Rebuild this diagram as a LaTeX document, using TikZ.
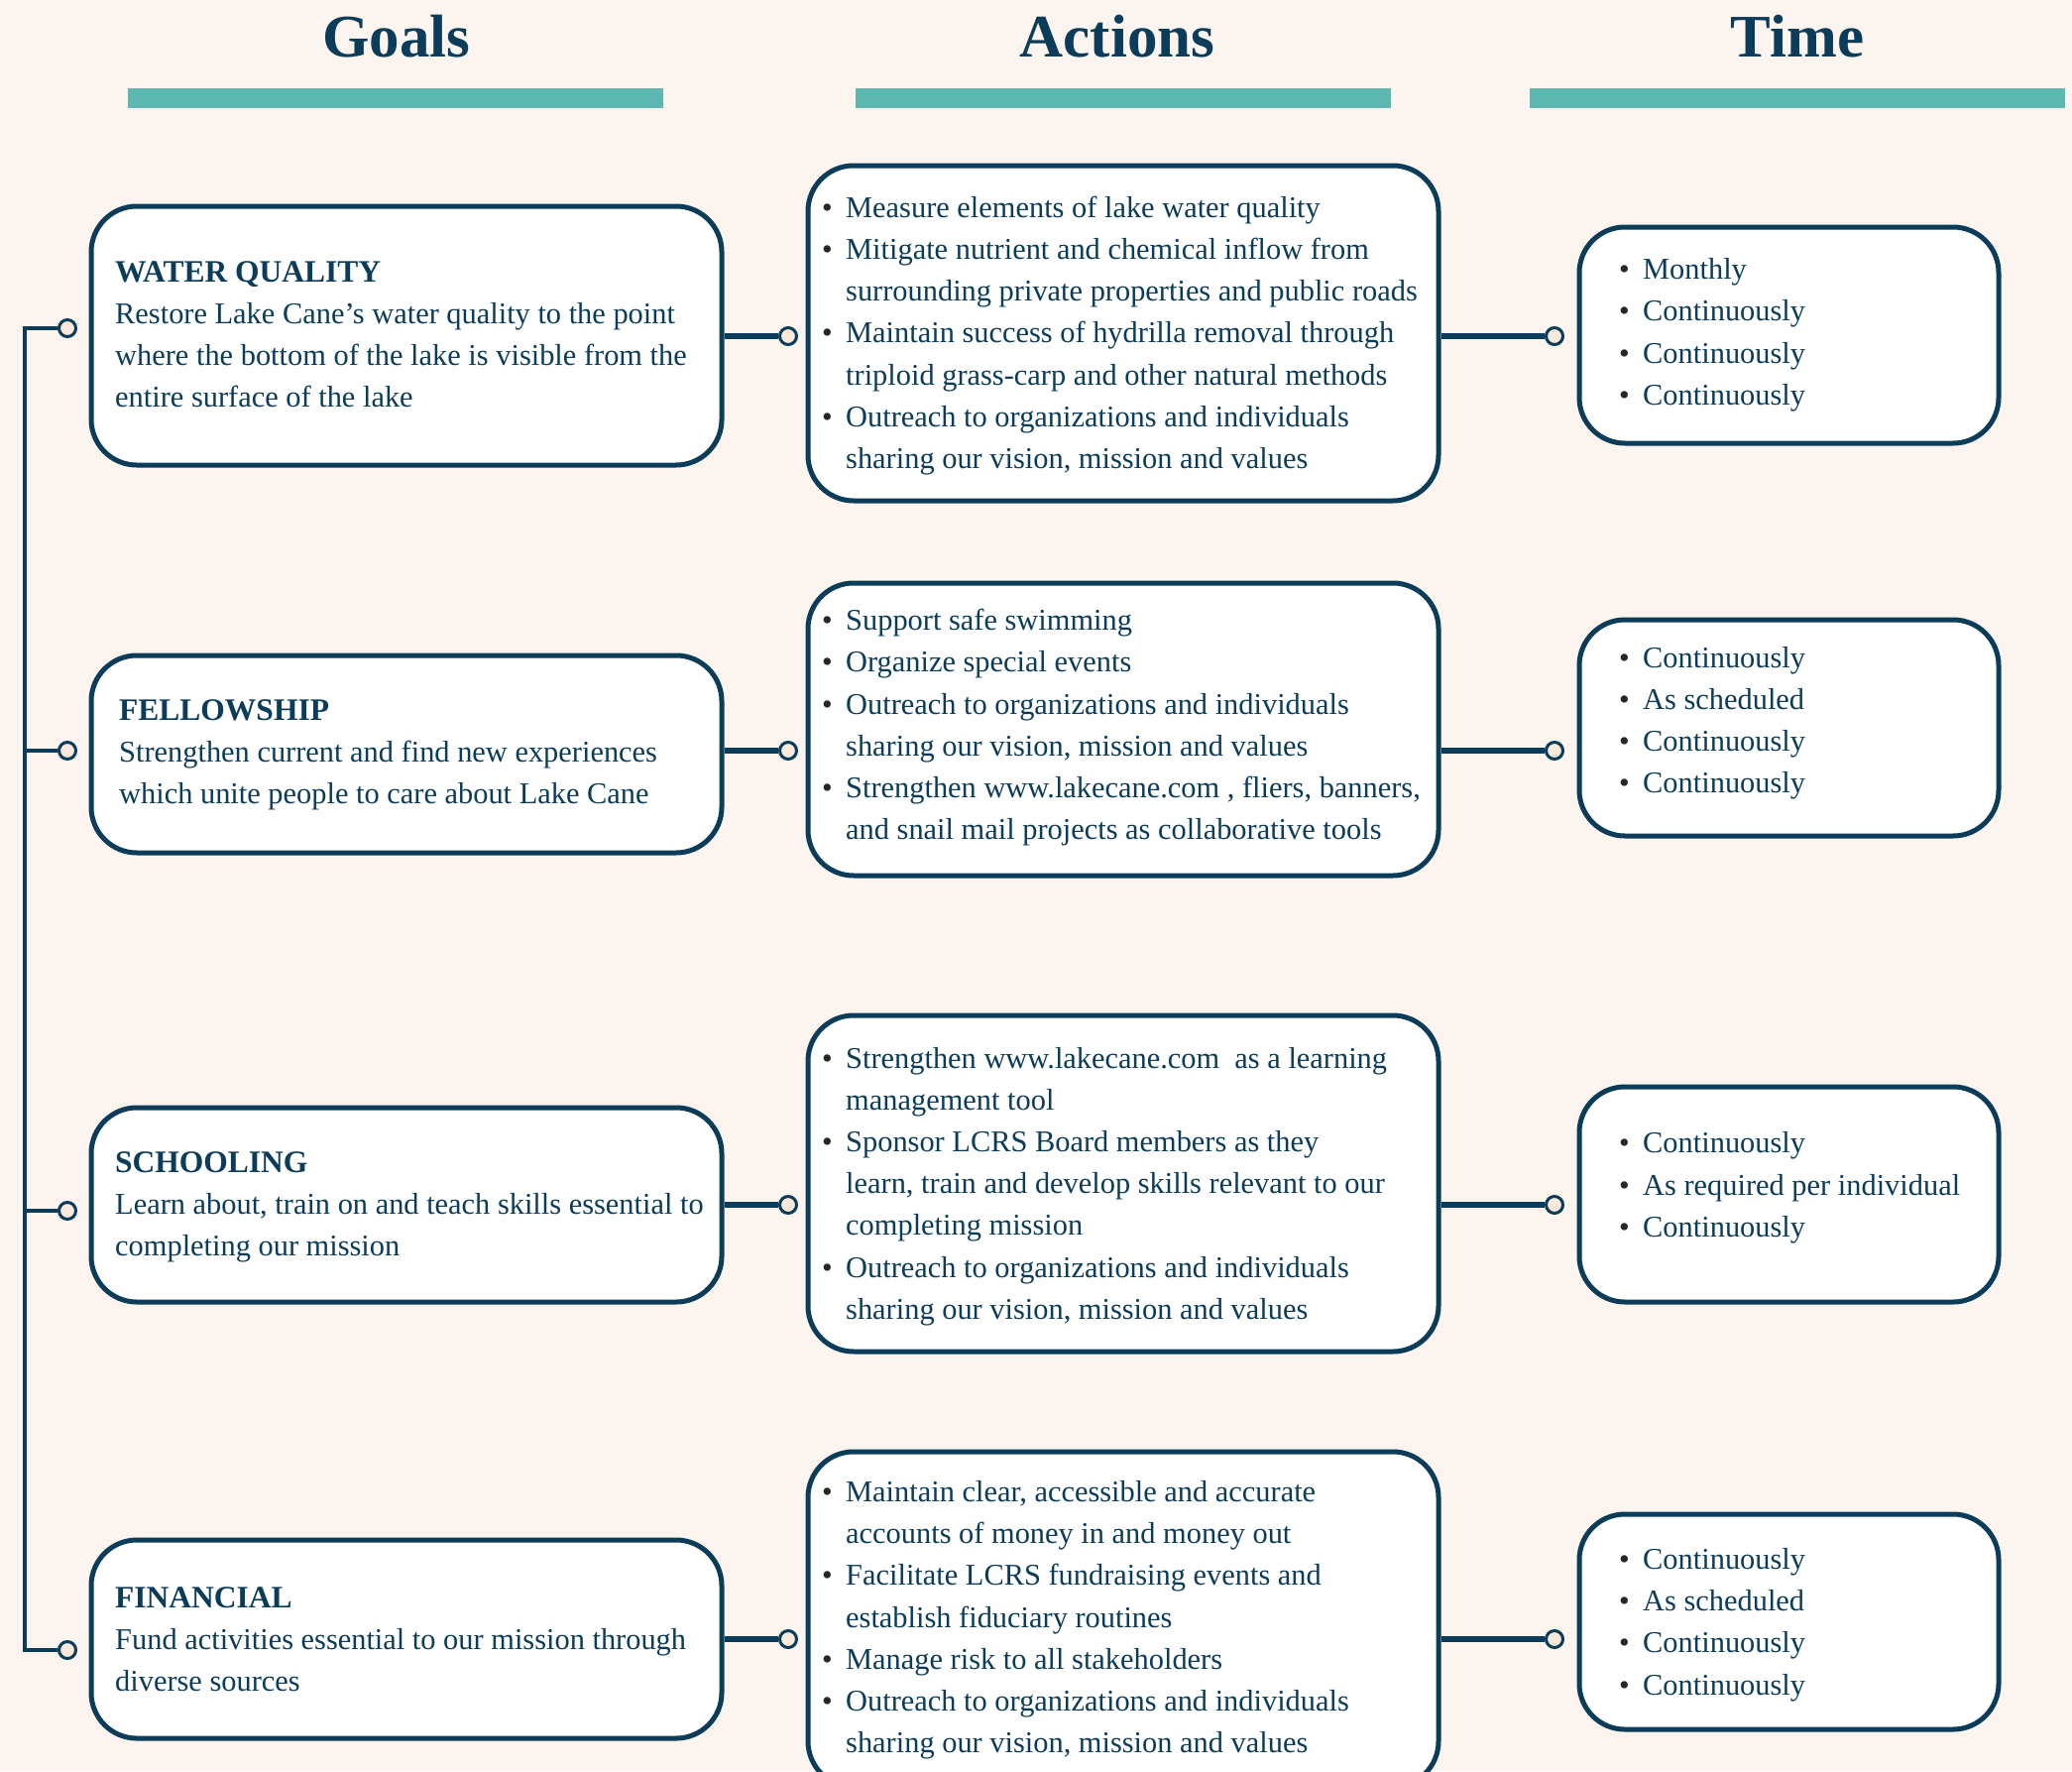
\documentclass[tikz,border=0pt]{standalone}
\usepackage{fontspec}
\setmainfont{Liberation Serif}
\definecolor{bg}{HTML}{FCF4EE}
\definecolor{navy}{HTML}{0B3C5A}
\definecolor{tealbar}{HTML}{5DB8B2}
\definecolor{peach}{HTML}{FAE8DA}
\newcommand\mybul{\makebox[24pt][l]{\textcolor{black!85}{\textbullet}}}
\newcommand\myind{\hspace*{24pt}}
\newcommand\hd[1]{{\fontsize{31.5}{42.2}\selectfont\bfseries #1}}
\begin{document}
\begin{tikzpicture}[x=1pt,y=-1pt,
  box/.style={draw=navy, line width=5pt, fill=white, rounded corners=46pt, inner sep=0pt},
  txt/.style={anchor=west, align=left, text=navy, inner sep=0pt, yshift=-2.5pt, font=\fontsize{30.4}{42.2}\selectfont},
  ttl/.style={text=navy, font=\fontsize{61}{61}\selectfont\bfseries, anchor=base, inner sep=0pt},
  bar/.style={fill=tealbar, draw=none, inner sep=0pt, minimum width=540pt, minimum height=20pt},
  dot/.style={circle, draw=navy, fill=peach, line width=3pt, minimum size=17pt, inner sep=0pt},
  link/.style={draw=navy, line width=5.5pt}]
\fill[bg] (0,0) rectangle (2090,1786);
\useasboundingbox (0,0) rectangle (2090,1786);
\clip (0,0) rectangle (2090,1786);

% titles and bars
\node[ttl] (tg) at (400,57) {Goals};
\node[ttl] (ta) at (1127,57) {Actions};
\node[ttl] (tt) at (1813,57) {Time};
\node[bar] (bg1) at (399,99) {};
\node[bar] (bg2) at (1133,99) {};
\node[bar] (bg3) at (1813,99) {};

% goal boxes
\node[box, minimum width=636pt, minimum height=261pt] (g1) at (410,338.5) {};
\node[box, minimum width=636pt, minimum height=199pt] (g2) at (410,760.5) {};
\node[box, minimum width=636pt, minimum height=196pt] (g3) at (410,1215) {};
\node[box, minimum width=636pt, minimum height=200pt] (g4) at (410,1653) {};
% action boxes
\node[box, minimum width=636pt, minimum height=338pt] (a1) at (1133,336) {};
\node[box, minimum width=636pt, minimum height=295pt] (a2) at (1133,735.5) {};
\node[box, minimum width=636pt, minimum height=339pt] (a3) at (1133,1193.5) {};
\node[box, minimum width=636pt, minimum height=338pt] (a4) at (1133,1633) {};
% time boxes
\node[box, minimum width=423pt, minimum height=218pt] (t1) at (1804.5,338) {};
\node[box, minimum width=423pt, minimum height=218pt] (t2) at (1804.5,734) {};
\node[box, minimum width=423pt, minimum height=217pt] (t3) at (1804.5,1204.5) {};
\node[box, minimum width=423pt, minimum height=217pt] (t4) at (1804.5,1635.5) {};

% goal texts
\node[txt] (g1t) at (116,334.7) {\hd{WATER QUALITY}\\Restore Lake Cane’s water quality to the point\\where the bottom of the lake is visible from the\\entire surface of the lake};
\node[txt] (g2t) at (120,758.7) {\hd{FELLOWSHIP}\\Strengthen current and find new experiences\\which unite people to care about Lake Cane};
\node[txt] (g3t) at (116,1214.7) {\hd{SCHOOLING}\\Learn about, train on and teach skills essential to\\completing our mission};
\node[txt] (g4t) at (116,1650.7) {\hd{FINANCIAL}\\Fund activities essential to our mission through\\diverse sources};

% action texts
\node[txt] (a1t) at (829,336) {\mybul Measure elements of lake water quality\\
\mybul Mitigate nutrient and chemical inflow from\\
\myind surrounding private properties and public roads\\
\mybul Maintain success of hydrilla removal through\\
\myind triploid grass-carp and other natural methods\\
\mybul Outreach to organizations and individuals\\
\myind sharing our vision, mission and values};
\node[txt] (a2t) at (829,731.3) {\mybul Support safe swimming\\
\mybul Organize special events\\
\mybul Outreach to organizations and individuals\\
\myind sharing our vision, mission and values\\
\mybul Strengthen www.lakecane.com , fliers, banners,\\
\myind and snail mail projects as collaborative tools};
\node[txt] (a3t) at (829,1194) {\mybul Strengthen www.lakecane.com \ as a learning\\
\myind management tool\\
\mybul Sponsor LCRS Board members as they\\
\myind learn, train and develop skills relevant to our\\
\myind completing mission\\
\mybul Outreach to organizations and individuals\\
\myind sharing our vision, mission and values};
\node[txt] (a4t) at (829,1631.3) {\mybul Maintain clear, accessible and accurate\\
\myind accounts of money in and money out\\
\mybul Facilitate LCRS fundraising events and\\
\myind establish fiduciary routines\\
\mybul Manage risk to all stakeholders\\
\mybul Outreach to organizations and individuals\\
\myind sharing our vision, mission and values};

% time texts
\node[txt] (t1t) at (1633,335.3) {\mybul Monthly\\\mybul Continuously\\\mybul Continuously\\\mybul Continuously};
\node[txt] (t2t) at (1633,726.7) {\mybul Continuously\\\mybul As scheduled\\\mybul Continuously\\\mybul Continuously};
\node[txt] (t3t) at (1633,1195.3) {\mybul Continuously\\\mybul As required per individual\\\mybul Continuously};
\node[txt] (t4t) at (1633,1636) {\mybul Continuously\\\mybul As scheduled\\\mybul Continuously\\\mybul Continuously};

% connector dots
\node[dot] (ga1) at (795,339) {};
\node[dot] (ga2) at (795,757) {};
\node[dot] (ga3) at (795,1215) {};
\node[dot] (ga4) at (795,1653) {};
\node[dot] (at1) at (1568,339) {};
\node[dot] (at2) at (1568,757) {};
\node[dot] (at3) at (1568,1215) {};
\node[dot] (at4) at (1568,1653) {};
\node[dot] (l1) at (68,331) {};
\node[dot] (l2) at (68,757) {};
\node[dot] (l3) at (68,1221) {};
\node[dot] (l4) at (68,1664) {};
\coordinate (sp) at (25,0);

% connectors
\foreach \i in {1,2,3,4}{
  \draw[link] (g\i.east |- ga\i) -- (ga\i.west);
  \draw[link] (a\i.east |- at\i) -- (at\i.west);
}
\draw[link, line width=4.5pt] (l1.west) -| (sp |- l4) -- (l4.west);
\draw[link, line width=4.5pt] (l2.west) -- (l2.west -| sp);
\draw[link, line width=4.5pt] (l3.west) -- (l3.west -| sp);
\end{tikzpicture}
\end{document}
